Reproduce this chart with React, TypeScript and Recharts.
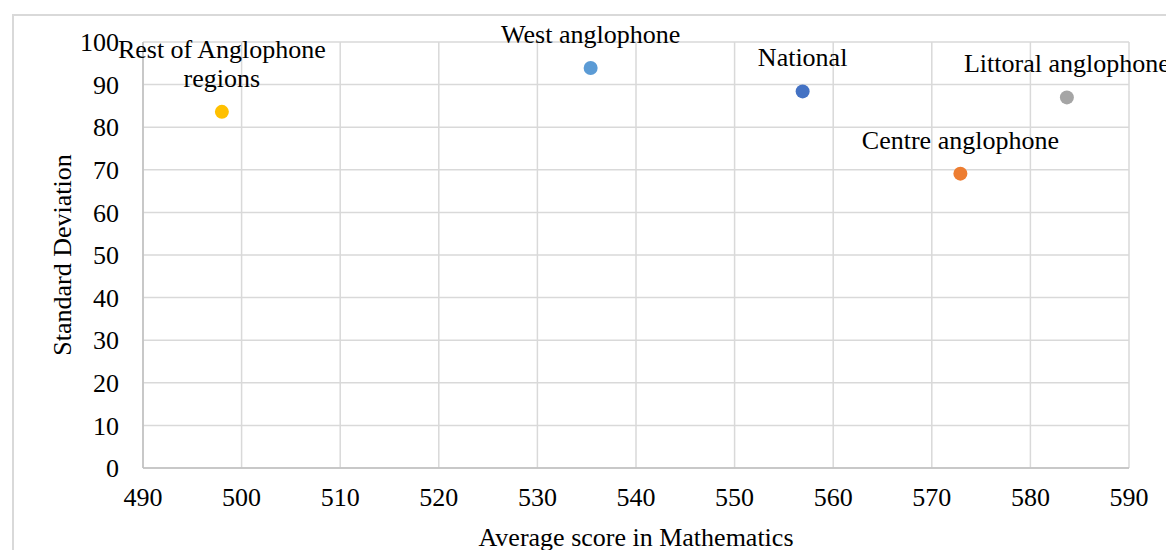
import React from 'react';
import { ScatterChart, Scatter, XAxis, YAxis, CartesianGrid, Label } from 'recharts';

const names = ['Rest of Anglophone regions', 'West anglophone', 'National', 'Centre anglophone', 'Littoral anglophone'];
const labelLines = [['Rest of Anglophone', 'regions'], ['West anglophone'], ['National'], ['Centre anglophone'], ['Littoral anglophone']];
const avgScore = [498.0, 535.4, 556.9, 572.9, 583.7];
const stdDev = [83.6, 93.9, 88.4, 69.1, 87.0];
const colors = ['#FFC000', '#5B9BD5', '#4472C4', '#ED7D31', '#A5A5A5'];

const xTicks = [490, 500, 510, 520, 530, 540, 550, 560, 570, 580, 590];
const yTicks = [0, 10, 20, 30, 40, 50, 60, 70, 80, 90, 100];

const FONT = '"Liberation Serif", "Times New Roman", serif';
const FS = 26;

const DotWithLabel = (props: any) => {
  const { cx, cy, fill, payload } = props;
  const lines: string[] = payload.lines;
  return (
    <g>
      <circle cx={cx} cy={cy} r={7} fill={fill} />
      <text textAnchor="middle" fontFamily={FONT} fontSize={FS} fill="#000">
        {lines.map((ln, i) => (
          <tspan key={i} x={cx} y={cy - 25 - (lines.length - 1 - i) * 29}>
            {ln}
          </tspan>
        ))}
      </text>
    </g>
  );
};

const YTitle = (props: any) => {
  const { viewBox } = props;
  const x = viewBox.x + 62;
  const y = viewBox.y + viewBox.height / 2;
  return (
    <text x={x} y={y} transform={`rotate(-90 ${x} ${y})`} textAnchor="middle" dominantBaseline="central" fontFamily={FONT} fontSize={FS} fill="#000">
      Standard Deviation
    </text>
  );
};

export default function App() {
  return (
    <div style={{ position: 'absolute', left: 0, top: 0, width: 1166, height: 550, background: '#fff', overflow: 'hidden' }}>
      <div style={{ position: 'absolute', left: 12, top: 14, width: 1200, height: 600, border: '2px solid #d9d9d9', boxSizing: 'border-box' }} />
      <div style={{ position: 'absolute', left: 0, top: 0 }}>
        <ScatterChart width={1166} height={550} margin={{ top: 42, right: 37, bottom: 0, left: 0 }}>
          <CartesianGrid stroke="#d9d9d9" strokeWidth={1.5} />
          <XAxis
            type="number"
            dataKey="x"
            domain={[490, 590]}
            ticks={xTicks}
            interval={0}
            height={82}
            tickSize={0}
            tickMargin={20}
            axisLine={{ stroke: '#bfbfbf', strokeWidth: 1.5 }}
            tick={{ fill: '#000', fontFamily: FONT, fontSize: FS }}
          >
            <Label value="Average score in Mathematics" position="bottom" offset={-22} fill="#000" fontFamily={FONT} fontSize={FS} />
          </XAxis>
          <YAxis
            type="number"
            dataKey="y"
            domain={[0, 100]}
            ticks={yTicks}
            interval={0}
            width={143}
            tickSize={0}
            tickMargin={24}
            axisLine={{ stroke: '#bfbfbf', strokeWidth: 1.5 }}
            tick={{ fill: '#000', fontFamily: FONT, fontSize: FS }}
          >
            <Label content={<YTitle />} />
          </YAxis>
          {names.map((n, i) => (
            <Scatter
              key={n}
              name={n}
              data={[{ x: avgScore[i], y: stdDev[i], lines: labelLines[i] }]}
              fill={colors[i]}
              shape={<DotWithLabel />}
              isAnimationActive={false}
            />
          ))}
        </ScatterChart>
      </div>
    </div>
  );
}
